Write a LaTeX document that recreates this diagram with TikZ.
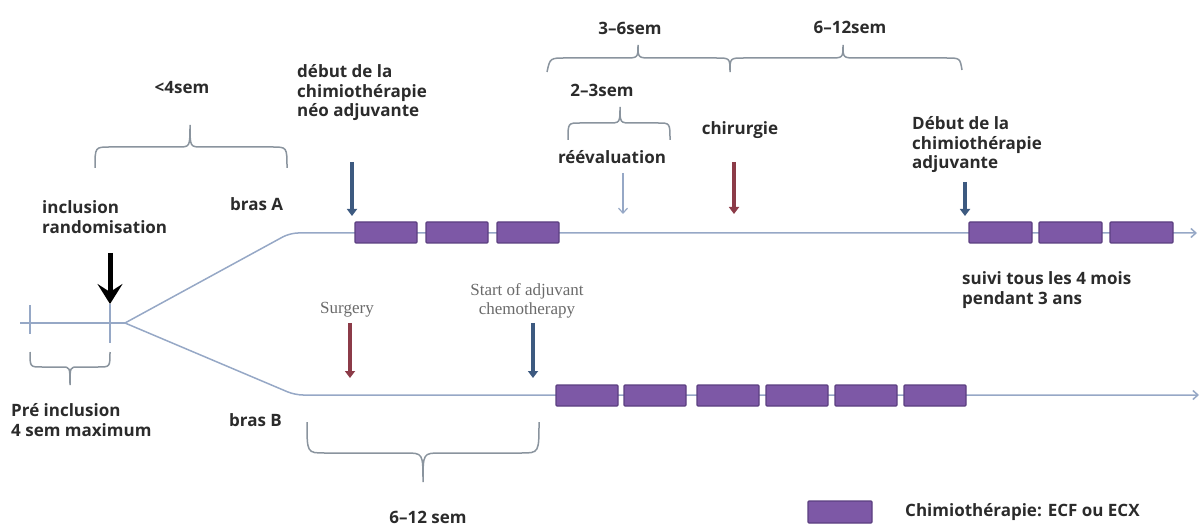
\documentclass[tikz,border=0pt]{standalone}
\usepackage{fontspec}
\newfontfamily\labfont{Open Sans}
\newfontfamily\serfont{Liberation Serif}
\usetikzlibrary{arrows.meta}
\definecolor{linec}{HTML}{96A8C6}
\definecolor{boxfill}{HTML}{7D58A6}
\definecolor{boxdraw}{HTML}{5B3F80}
\definecolor{bluearr}{HTML}{3D5A80}
\definecolor{redarr}{HTML}{8C3B48}
\definecolor{bracec}{HTML}{8A949E}
\definecolor{txt}{HTML}{2B2B2B}
\definecolor{sertxt}{HTML}{6A6A6A}
\tikzset{
  lab/.style={font=\labfont\bfseries\fontsize{17}{19.5}\selectfont, text=txt, inner sep=0pt, align=left},
  labc/.style={lab, align=center},
  serlab/.style={font=\serfont\fontsize{17}{18.5}\selectfont, text=sertxt, inner sep=0pt, align=center},
  tl/.style={draw=linec, line width=1.5pt},
  cyc/.style={fill=boxfill, draw=boxdraw, line width=1.2pt, rounded corners=1pt},
  bigarr/.style={line width=4.5pt, -{Triangle[length=7pt,width=10pt]}},
  bracestyle/.style={draw=bracec, line width=1.5pt},
}
\begin{document}
\begin{tikzpicture}[x=1pt,y=-1pt]
\useasboundingbox (0,0) rectangle (1201,526);
% --- time lines
\coordinate (p0) at (20,323);
\coordinate (split) at (125,323);
\coordinate (aK) at (290,233);
\coordinate (aE) at (1197,233);
\coordinate (bK) at (295,395);
\coordinate (bE) at (1199,395);
\draw[tl] (p0) -- (split);
\draw[tl, rounded corners=8pt, -{Straight Barb[length=5pt,width=9pt]}] (split) -- (aK) -- (aE);
\draw[tl, rounded corners=8pt, -{Straight Barb[length=5pt,width=9pt]}] (split) -- (bK) -- (bE);
% ticks
\coordinate (t1a) at (30,305); \coordinate (t1b) at (30,334);
\coordinate (t2a) at (110,304); \coordinate (t2b) at (110,343);
\draw[tl] (t1a) -- (t1b);
\draw[tl] (t2a) -- (t2b);
% --- chemo cycles arm A
\foreach \x in {355,426,497} {\draw[cyc] (\x,222) rectangle ++(62,21);}
\foreach \x in {969,1039,1110} {\draw[cyc] (\x,222) rectangle ++(63,21);}
% --- chemo cycles arm B
\foreach \x in {556,624,697,766,835,904} {\draw[cyc] (\x,385) rectangle ++(62,21);}
% legend
\node[cyc, minimum width=64pt, minimum height=22pt, inner sep=0pt] (leg) at (840,512) {};
\node[lab, anchor=west] (legt) at (905,512) {Chimioth\'erapie: ECF ou ECX};
% --- arrows
\coordinate (k1) at (110,253); \coordinate (k2) at (110,304);
\draw[black, line width=5pt, -{Stealth[length=20pt,width=25pt,inset=8pt]}] (k1) -- (k2);
\coordinate (n1) at (352,162); \coordinate (n2) at (352,216);
\draw[bluearr, bigarr] (n1) -- (n2);
\coordinate (r1) at (623,173); \coordinate (r2) at (623,214);
\draw[linec, line width=1.2pt, -{Straight Barb[length=5pt,width=9pt]}] (r1) -- (r2);
\coordinate (c1) at (734,162); \coordinate (c2) at (734,214);
\draw[redarr, bigarr] (c1) -- (c2);
\coordinate (j1) at (965,182); \coordinate (j2) at (965,216);
\draw[bluearr, bigarr] (j1) -- (j2);
\coordinate (s1) at (350,323); \coordinate (s2) at (350,378);
\draw[redarr, bigarr] (s1) -- (s2);
\coordinate (q1) at (533,323); \coordinate (q2) at (533,378);
\draw[bluearr, bigarr] (q1) -- (q2);
% --- braces
% pre-inclusion (tip down)
\draw[bracestyle] (30,352) .. controls (30,367) .. (42,367) -- (62,367) .. controls (70,367) .. (70,385) .. controls (70,367) .. (78,367) -- (98,367) .. controls (110,367) .. (110,352);
% <4sem (tip up)
\draw[bracestyle] (95,168) .. controls (95,147) .. (110,147) -- (178,147) .. controls (190,147) .. (190,125) .. controls (190,147) .. (202,147) -- (272,147) .. controls (287,147) .. (287,168);
% 3-6sem and 6-12sem
\draw[bracestyle] (547,72) .. controls (550,58) .. (566,58) -- (624,58) .. controls (638,58) .. (638,45) .. controls (638,58) .. (652,58) -- (716,58) .. controls (730,58) .. (730,72) .. controls (730,58) .. (744,58) -- (829,58) .. controls (843,58) .. (843,45) .. controls (843,58) .. (857,58) -- (946,58) .. controls (960,58) .. (962,70);
% 2-3sem
\draw[bracestyle] (568,140) .. controls (568,123) .. (580,123) -- (608,123) .. controls (620,123) .. (620,107) .. controls (620,123) .. (632,123) -- (658,123) .. controls (670,123) .. (670,140);
% arm B 6-12 sem (tip down)
\draw[bracestyle] (307,422) .. controls (307,453) .. (325,453) -- (405,453) .. controls (423,453) .. (423,482) .. controls (423,453) .. (441,453) -- (521,453) .. controls (539,453) .. (539,422);
% --- texts
\node[lab, anchor=west] (incl) at (42,217) {inclusion\\randomisation};
\node[lab, anchor=west] (brasA) at (230,204) {bras A};
\node[lab, anchor=west] (brasB) at (229,420) {bras B};
\node[lab, anchor=west] (pre) at (11,420) {Pr\'e inclusion\\4 sem maximum};
\node[labc] (lt4) at (182,88) {<4sem};
\node[lab, anchor=west] (debut) at (297,93) {d\'ebut de la\\chimioth\'erapie\\n\'eo adjuvante};
\node[labc] (s36) at (630,28) {3–6sem};
\node[labc] (s612) at (850,27) {6–12sem};
\node[labc] (s23) at (602,90) {2–3sem};
\node[labc] (reev) at (612,157) {r\'e\'evaluation};
\node[labc] (chir) at (740,130) {chirurgie};
\node[lab, anchor=west] (debadj) at (912,145) {D\'ebut de la\\chimioth\'erapie\\adjuvante};
\node[lab, anchor=west] (suivi) at (962,290) {suivi tous les 4 mois\\pendant 3 ans};
\node[serlab] (surg) at (347,310) {Surgery};
\node[serlab] (start) at (527,301) {Start of adjuvant\\chemotherapy};
\node[labc] (s612b) at (428,517) {6–12 sem};
\end{tikzpicture}
\end{document}
